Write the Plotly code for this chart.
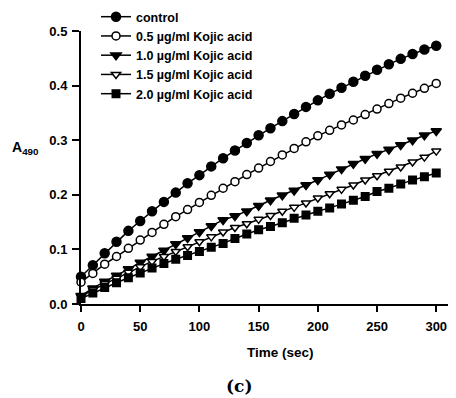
import plotly.graph_objects as go

time_sec = list(range(0, 301, 10))

control = [0.050, 0.071, 0.093, 0.114, 0.134, 0.152, 0.170, 0.187, 0.204, 0.221,
           0.236, 0.252, 0.267, 0.281, 0.295, 0.309, 0.322, 0.335, 0.348, 0.361,
           0.373, 0.385, 0.396, 0.407, 0.418, 0.429, 0.439, 0.449, 0.458, 0.466, 0.473]
kojic_05 = [0.040, 0.056, 0.073, 0.087, 0.102, 0.117, 0.131, 0.146, 0.160, 0.173,
            0.186, 0.199, 0.212, 0.224, 0.237, 0.249, 0.261, 0.273, 0.285, 0.297,
            0.308, 0.318, 0.328, 0.337, 0.347, 0.357, 0.367, 0.377, 0.386, 0.395, 0.404]
kojic_10 = [0.015, 0.029, 0.041, 0.052, 0.064, 0.076, 0.087, 0.098, 0.110, 0.121,
            0.132, 0.143, 0.154, 0.161, 0.170, 0.180, 0.190, 0.199, 0.208, 0.218,
            0.227, 0.237, 0.247, 0.257, 0.266, 0.275, 0.283, 0.291, 0.300, 0.309, 0.317]
kojic_15 = [0.014, 0.026, 0.037, 0.047, 0.058, 0.068, 0.078, 0.087, 0.096, 0.105,
            0.114, 0.123, 0.132, 0.140, 0.147, 0.155, 0.162, 0.170, 0.177, 0.185,
            0.194, 0.202, 0.210, 0.218, 0.227, 0.235, 0.243, 0.251, 0.260, 0.269, 0.280]
kojic_20 = [0.010, 0.020, 0.030, 0.039, 0.048, 0.057, 0.066, 0.074, 0.082, 0.089,
            0.096, 0.104, 0.111, 0.120, 0.128, 0.136, 0.142, 0.149, 0.157, 0.163,
            0.170, 0.176, 0.183, 0.190, 0.197, 0.206, 0.212, 0.220, 0.227, 0.233, 0.240]

series_names = ["control", "0.5 µg/ml Kojic acid", "1.0 µg/ml Kojic acid",
                "1.5 µg/ml Kojic acid", "2.0 µg/ml Kojic acid"]
series_values = [control, kojic_05, kojic_10, kojic_15, kojic_20]
x_ticks = [0, 50, 100, 150, 200, 250, 300]
y_ticks = [0.0, 0.1, 0.2, 0.3, 0.4, 0.5]
y_tick_labels = ["0.0", "0.1", "0.2", "0.3", "0.4", "0.5"]

styles = [
    dict(symbol="circle", size=9, color="black"),
    dict(symbol="circle", size=8, color="white"),
    dict(symbol="triangle-down", size=9, color="black"),
    dict(symbol="triangle-down", size=8, color="white"),
    dict(symbol="square", size=7.5, color="black"),
]

FONT = "Liberation Sans, Arial, sans-serif"

# The page body has an 8px default margin, so the figure is 448x390
W, H = 448, 390

fig = go.Figure()
for name, vals, st in zip(series_names, series_values, styles):
    fig.add_trace(go.Scatter(
        x=time_sec, y=vals, name=name, mode="lines+markers",
        line=dict(color="black", width=1.5),
        marker=dict(symbol=st["symbol"], size=st["size"], color=st["color"],
                    line=dict(color="black", width=1.5)),
        cliponaxis=False,
    ))

fig.update_layout(
    template="none",
    width=W, height=H,
    margin=dict(l=73, r=2, t=23, b=94, pad=0, autoexpand=False),
    plot_bgcolor="white", paper_bgcolor="white",
    font=dict(family=FONT, size=12, color="black", weight="bold"),
    showlegend=True,
    legend=dict(xref="paper", yref="paper", x=(88 - 73) / 373, y=1.106,
                xanchor="left", yanchor="top", borderwidth=0,
                bgcolor="rgba(0,0,0,0)", font=dict(size=12.5, weight="bold"),
                tracegroupgap=0, itemwidth=30),
    xaxis=dict(range=[0, 315], tickvals=x_ticks, ticks="outside", ticklen=6,
               tickwidth=2, tickcolor="black", showline=True, linewidth=2,
               linecolor="black", showgrid=False, zeroline=False, automargin=False,
               ticklabelstandoff=3,
               tickfont=dict(size=13, weight="bold")),
    yaxis=dict(range=[0, 0.5], tickvals=y_ticks, ticktext=y_tick_labels,
               ticks="outside", ticklen=7, tickwidth=2, tickcolor="black",
               showline=True, linewidth=2, linecolor="black", showgrid=False,
               zeroline=False, automargin=False, ticklabelstandoff=2,
               tickfont=dict(size=13, weight="bold")),
    annotations=[
        dict(text="Time (sec)", xref="paper", yref="paper", x=0.535, y=-0.176,
             xanchor="center", yanchor="middle", showarrow=False,
             font=dict(size=13.5, weight="bold")),
        dict(text="A<sub>490</sub>", xref="paper", yref="paper", x=-0.19, y=0.571,
             xanchor="left", yanchor="middle", showarrow=False,
             font=dict(size=14, weight="bold")),
        dict(text="(c)", xref="paper", yref="paper", x=0.4236, y=-0.302,
             xanchor="center", yanchor="middle", showarrow=False,
             font=dict(family="DejaVu Serif, serif", size=17, weight="bold")),
    ],
)

fig.write_html("out.html")
